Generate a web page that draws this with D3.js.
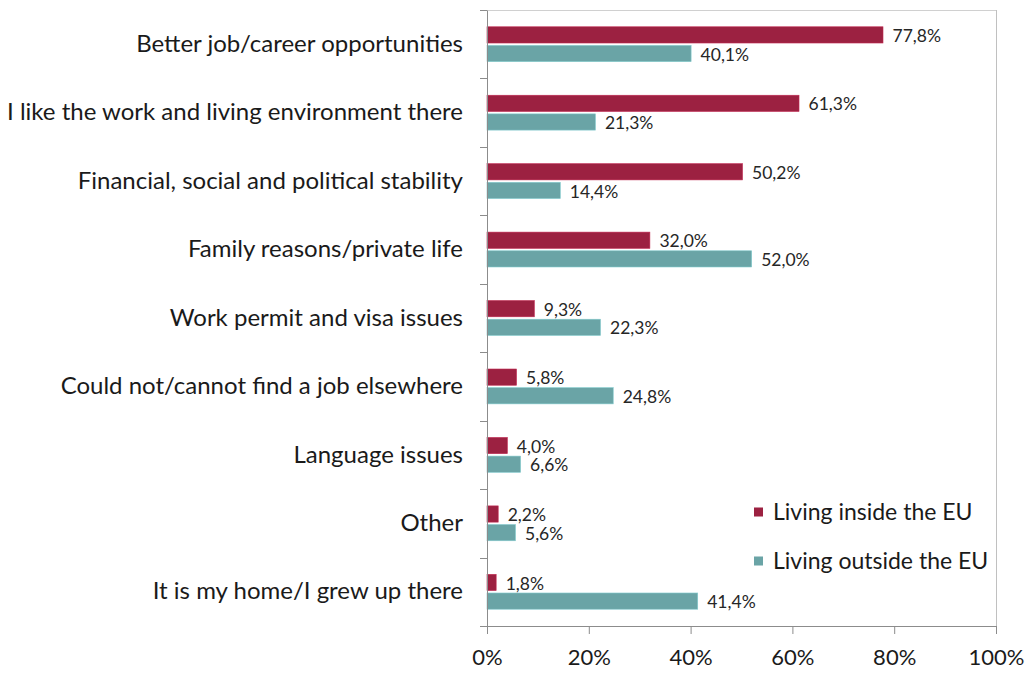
<!DOCTYPE html>
<html><head><meta charset="utf-8">
<script src="https://cdn.jsdelivr.net/npm/d3@7"></script>
<style>body{margin:0;background:#fff}svg{display:block}text{font-family:Lato,"Open Sans",sans-serif;fill:#1a1a1a}</style>
</head><body><svg id="c" width="1031" height="673"></svg>
<script>
const categories = ["Better job/career opportunities","I like the work and living environment there","Financial, social and political stability","Family reasons/private life","Work permit and visa issues","Could not/cannot find a job elsewhere","Language issues","Other","It is my home/I grew up there"];
const insideEU = [77.8,61.3,50.2,32.0,9.3,5.8,4.0,2.2,1.8];
const outsideEU = [40.1,21.3,14.4,52.0,22.3,24.8,6.6,5.6,41.4];
const seriesNames = ["Living inside the EU","Living outside the EU"];
const xTicks = [0,20,40,60,80,100];
const colors = ["#9c2141","#6aa4a6"];

const svg = d3.select("#c");
const L = 487, R = 996, T = 10, B = 626;
const x = d3.scaleLinear().domain([0,100]).range([L,R]);
const y = d3.scaleBand().domain(categories).range([T,B]).paddingInner(0).paddingOuter(0);
const sub = d3.scaleBand().domain([0,1]).range([0,y.bandwidth()]).paddingInner(0.13).paddingOuter(0.9);

// frame
svg.append("line").attr("x1",L).attr("x2",R).attr("y1",T+0.5).attr("y2",T+0.5).attr("stroke","#d0d0d0");
svg.append("line").attr("x1",R+0.5).attr("x2",R+0.5).attr("y1",T).attr("y2",B).attr("stroke","#c0c0c0");

const fmt = v => d3.format(".1f")(v).replace(".",",") + "%";
const series = [insideEU, outsideEU];
series.forEach((vals,si)=>{
  const g = svg.append("g");
  g.selectAll("rect").data(vals).join("rect")
    .attr("x",L).attr("y",(d,i)=>y(categories[i])+sub(si))
    .attr("width",d=>x(d)-L).attr("height",sub.bandwidth())
    .attr("fill",colors[si]).attr("stroke",d3.color(colors[si]).brighter(0.6)).attr("stroke-width",0.6);
  g.selectAll("text").data(vals).join("text")
    .attr("x",d=>x(d)+9.5).attr("y",(d,i)=>y(categories[i])+sub(si)+sub.bandwidth()/2+1)
    .attr("dy","0.35em").attr("font-size",17.5).style("fill","#262626").text(fmt);
});

// y axis
const ya = svg.append("g").attr("transform",`translate(${L},0)`)
  .call(d3.axisLeft(y).tickSize(0).tickPadding(24));
ya.select(".domain").attr("stroke","#8c8c8c");
ya.selectAll("text").attr("font-size",24).style("font-family","Lato,sans-serif").style("fill","#1a1a1a");
svg.selectAll(".ytick").data(d3.range(categories.length+1)).join("line")
  .attr("x1",L-7).attr("x2",L).attr("y1",i=>Math.round(T + i*y.step())+0.5).attr("y2",i=>Math.round(T + i*y.step())+0.5)
  .attr("stroke","#8c8c8c");

// x axis
const xa = svg.append("g").attr("transform",`translate(0,${B})`)
  .call(d3.axisBottom(x).tickValues(xTicks).tickFormat(d=>d+"%").tickSize(8).tickSizeOuter(0).tickPadding(15));
xa.select(".domain").attr("stroke","#8c8c8c");
xa.selectAll("line").attr("stroke","#8c8c8c");
xa.selectAll("text").attr("font-size",22).style("font-family","Lato,sans-serif").style("fill","#1a1a1a");

// legend
const lg = svg.append("g");
seriesNames.forEach((n,i)=>{
  const yy = 512 + i*49;
  lg.append("rect").attr("x",754).attr("y",yy-4.5).attr("width",9).attr("height",9).attr("fill",colors[i]);
  lg.append("text").attr("x",773).attr("y",yy).attr("dy","0.35em").attr("font-size",23).text(n);
});
</script></body></html>
